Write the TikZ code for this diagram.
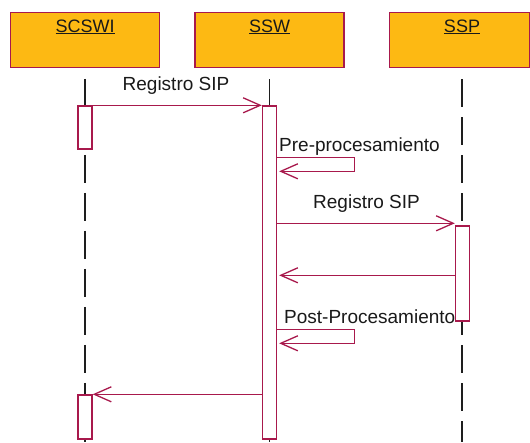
\documentclass[tikz,border=0pt]{standalone}
\usepackage{fontspec}
\setmainfont{Liberation Sans}
\usetikzlibrary{arrows.meta}
\definecolor{boxfill}{HTML}{FDB913}
\definecolor{wine}{HTML}{A8194C}
\definecolor{lifegray}{HTML}{1E1E1E}
\begin{document}
\begin{tikzpicture}[x=1pt, y=-1pt,
  font=\fontsize{18}{20}\selectfont,
  obj/.style={draw=wine, fill=boxfill, line width=1.3pt, minimum width=149pt,
    minimum height=55pt, inner sep=0pt},
  objname/.style={anchor=base, inner sep=0pt, text=black!90},
  life/.style={draw=lifegray, line width=1.2pt, dash pattern=on 28pt off 10pt},
  act/.style={draw=wine, fill=white, line width=1.4pt, minimum width=14pt, inner sep=0pt},
  msg/.style={draw=wine, line width=1.4pt,
    -{Straight Barb[length=17pt, width=15pt, line width=1.3pt]}},
  msglabel/.style={anchor=base west, inner sep=0pt, text=black!90,
    font=\fontsize{19}{21}\selectfont}]
\useasboundingbox (0,0) rectangle (530,442);
\coordinate (bottom) at (0,442);

% objects
\node[obj] (scswi) at (85,39.75) {};
\node[obj] (ssw) at (269.5,39.75) {};
\node[obj, minimum width=140pt] (ssp) at (459.25,39.75) {};
\node[objname] (scswiname) at (85,32) {\underline{SCSWI}};
\node[objname] (sswname) at (269.5,32) {\underline{SSW}};
\node[objname] (sspname) at (462,32) {\underline{SSP}};

% lifelines
\draw[life] ([yshift=-11pt]scswi.south) -- (scswi.south |- bottom);
\draw[life] ([yshift=-11.5pt]ssw.south) -- (ssw.south |- bottom);
\draw[life] ([yshift=-11.5pt]ssp.south -| sspname.south) -- (sspname.south |- bottom);

% activation bars
\node[act, minimum height=43pt] (a1) at (85,127.5) {};
\node[act, minimum height=333pt] (a2) at (269.5,272.5) {};
\node[act, minimum height=95pt] (a3) at (462.5,273.5) {};
\node[act, minimum height=44pt] (a4) at (85,417) {};

% messages
\draw[msg] (a1.north east) -- (a2.north west);
\node[msglabel, anchor=base] (m1label) at (176,90) {Registro SIP};

\draw[msg] ([yshift=-52pt]a2.north east) -- ++(77,0) -- ++(0,14) -- ++(-75,0);
\node[msglabel] (m2label) at (279,151) {Pre-procesamiento};

\draw[msg] ([yshift=-118pt]a2.north east) coordinate (m3) -- (m3 -| a3.west);
\node[msglabel] (m3label) at (313,208) {Registro SIP};

\draw[msg] ([yshift=-50pt]a3.north west) coordinate (m4) -- ([xshift=2pt]m4 -| a2.east);

\draw[msg] ([yshift=-224pt]a2.north east) -- ++(77,0) -- ++(0,14) -- ++(-75,0);
\node[msglabel] (m5label) at (284,323) {Post-Procesamiento};

\draw[msg] (a4.north -| a2.west) -- (a4.north east);
\end{tikzpicture}
\end{document}
